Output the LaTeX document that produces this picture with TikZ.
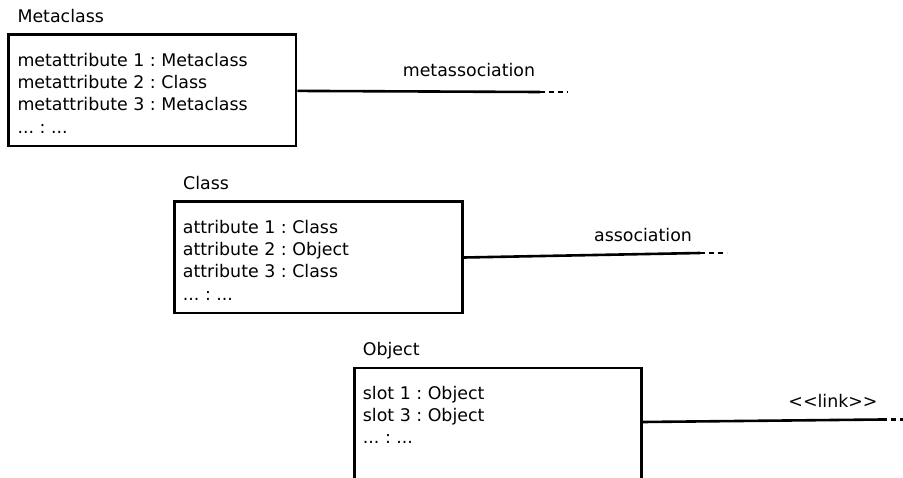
\documentclass[tikz,border=0pt]{standalone}
\usepackage{fontspec}
\setmainfont[Ligatures=NoCommon]{DejaVu Sans}
\begin{document}
\frenchspacing
\begin{tikzpicture}[x=1pt,y=-1pt,
  every node/.style={font=\fontsize{17.4}{22}\selectfont\frenchspacing, inner sep=0pt},
  umlbox/.style={draw, line width=2.5pt, anchor=north west, minimum width=#1, minimum height=111.5pt},
  txt/.style={anchor=base west},
  lbl/.style={anchor=base},
  conn/.style={line width=2.6pt},
  tail/.style={line width=2.6pt, dash pattern=on 5pt off 4pt}]
\useasboundingbox (0,0) rectangle (903,477);
\fill[white] (0,0) rectangle (903,477);

% Metaclass
\node[umlbox=287.5pt] (mc) at (7.3,33.3) {};
\node[txt] (mct) at (17.3,22.7) {Metaclass};
\node[txt] (mc1) at (17.3,66) {metattribute 1 : Metaclass};
\node[txt] (mc2) at (17.3,88.3) {metattribute 2 : Class};
\node[txt] (mc3) at (17.3,110.6) {metattribute 3 : Metaclass};
\node[txt] (mc4) at (17.3,133) {... : ...};
\coordinate (mcend) at (540,92);
\coordinate (mctail) at (568,92);
\draw[conn] ([yshift=-0.6pt]mc.east) -- (mcend);
\draw[tail] (mcend) -- (mctail);
\node[lbl] (mcl) at (469,76.7) {metassociation};

% Class
\node[umlbox=288pt] (cl) at (173.3,200) {};
\node[txt] (clt) at (183,189) {Class};
\node[txt] (cl1) at (182.7,233.3) {attribute 1 : Class};
\node[txt] (cl2) at (182.7,255.5) {attribute 2 : Object};
\node[txt] (cl3) at (182.7,277.8) {attribute 3 : Class};
\node[txt] (cl4) at (182.7,300) {... : ...};
\coordinate (clend) at (700,253);
\coordinate (cltail) at (727,253);
\draw[conn] ([yshift=-0.5pt]cl.east) -- (clend);
\draw[tail] (clend) -- (cltail);
\node[lbl] (cll) at (643,241.7) {association};

% Object
\node[umlbox=286.7pt, minimum height=140pt] (ob) at (353.3,366.7) {};
\node[txt] (obt) at (362.7,355.7) {Object};
\node[txt] (ob1) at (362.7,399.3) {slot 1 : Object};
\node[txt] (ob2) at (362.7,421.5) {slot 3 : Object};
\node[txt] (ob3) at (362.7,443.5) {... : ...};
\coordinate (obanchor) at (640,422);
\coordinate (obend) at (882,419.5);
\coordinate (obtail) at (905,419.5);
\draw[conn] (ob.east |- obanchor) -- (obend);
\draw[tail] (obend) -- (obtail);
\node[lbl] (obl) at (833,407) {{<}{<}link{>}{>}};
\end{tikzpicture}
\end{document}
